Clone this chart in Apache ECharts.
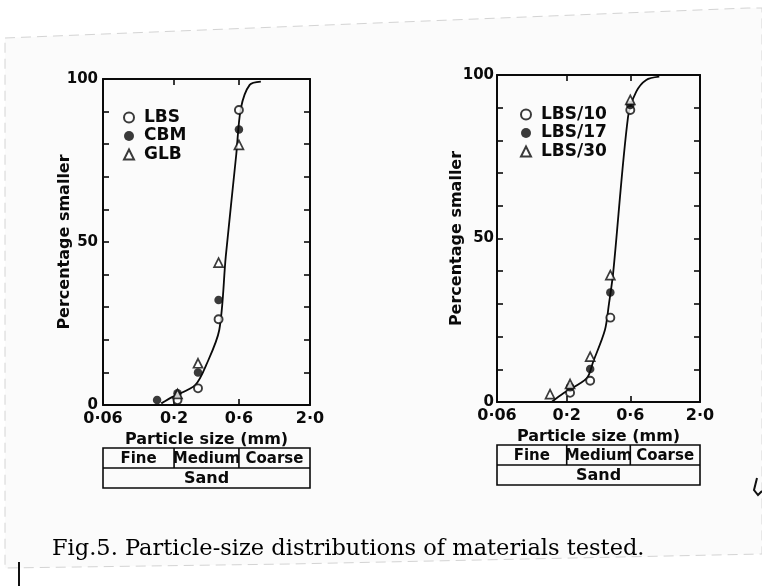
<!DOCTYPE html>
<html>
<head>
<meta charset="utf-8">
<script src="https://cdn.jsdelivr.net/npm/echarts@6/dist/echarts.min.js"></script>
<style>
  html, body { margin: 0; padding: 0; background: #ffffff; }
  #chart { width: 762px; height: 586px; }
</style>
</head>
<body>
<div id="chart"></div>
<script>
// BS sieve apertures (mm) used in the grading tests
const sieveSizes = [0.15, 0.212, 0.3, 0.425, 0.6];

// Left panel: percentage smaller at each sieve (null = not plotted)
const leftNames = ['LBS', 'CBM', 'GLB'];
const lbs = [null, 1.5, 5.1, 26.3, 90.5];
const cbm = [1.5, 3.6, 10.0, 32.2, 84.5];
const glb = [null, 3.4, 12.8, 43.7, 79.8];
// Hand-drawn grading curve, left panel
const leftCurveSize = [0.161, 0.195, 0.286, 0.345, 0.43, 0.48, 0.574, 0.62, 0.72, 0.87];
const leftCurvePct = [0.5, 2.5, 6.1, 12.3, 23, 45.5, 77, 91, 98.2, 99.2];

// Right panel
const rightNames = ['LBS/10', 'LBS/17', 'LBS/30'];
const lbs10 = [null, 2.8, 6.5, 25.8, 89.3];
const lbs17 = [null, 4.5, 10.1, 33.5, 90.8];
const lbs30 = [2.4, 5.5, 13.9, 38.8, 92.4];
const rightCurveSize = [0.155, 0.189, 0.282, 0.316, 0.387, 0.415, 0.446, 0.577, 0.665, 0.79, 0.99];
const rightCurvePct = [0.1, 2.7, 7.2, 12.3, 22, 30, 39.4, 87.2, 94.9, 98.5, 99.5];

// Axis ticks
const xTickValues = [0.06, 0.2, 0.6, 2.0];
const xTickLabels = ['0·06', '0·2', '0·6', '2·0'];
const xTopTicks = [0.2, 0.6];
const yTickLabels = [0, 50, 100];

// Sand classification bands (mm)
const sandClasses = ['Fine', 'Medium', 'Coarse'];
const sandBounds = [0.06, 0.2, 0.6, 2.0];

const lg = Math.log10;
const SANS = '"DejaVu Sans", sans-serif';
const INK = '#0a0a0a';

function points(pct) {
  const out = [];
  sieveSizes.forEach((s, i) => { if (pct[i] != null) out.push([lg(s), pct[i]]); });
  return out;
}
function curve(sizes, pct) {
  return sizes.map((s, i) => [lg(s), pct[i]]);
}

const markerStyles = [
  { symbol: 'circle', symbolSize: 8, itemStyle: { color: '#fff', borderColor: INK, borderWidth: 1.9 } },
  { symbol: 'circle', symbolSize: 8.5, itemStyle: { color: INK, borderColor: INK, borderWidth: 0 } },
  { symbol: 'triangle', symbolSize: 9, itemStyle: { color: '#fff', borderColor: INK, borderWidth: 1.7 } }
];

function xAxes(grid, nameGap) {
  const base = {
    gridIndex: grid, type: 'value', min: lg(0.06), max: lg(2.0),
    splitLine: { show: false },
    axisLine: { show: true, onZero: false, lineStyle: { color: INK, width: 2 } }
  };
  return [
    Object.assign({}, base, {
      position: 'bottom',
      axisTick: { show: true, inside: true, length: 6, lineStyle: { color: INK, width: 1.6 },
                  customValues: xTickValues.map(lg) },
      axisLabel: {
        show: true, customValues: xTickValues.map(lg), margin: 6,
        color: INK, fontSize: 16, fontWeight: 'bold', fontFamily: SANS,
        formatter: v => {
          const i = xTickValues.findIndex(t => Math.abs(lg(t) - v) < 1e-6);
          return i >= 0 ? xTickLabels[i] : '';
        }
      },
      name: 'Particle size (mm)', nameLocation: 'middle', nameGap: nameGap,
      nameTextStyle: { color: INK, fontSize: 16, fontWeight: 'bold', fontFamily: SANS }
    }),
    Object.assign({}, base, {
      position: 'top',
      axisTick: { show: true, inside: true, length: 6, lineStyle: { color: INK, width: 1.6 },
                  customValues: xTopTicks.map(lg) },
      axisLabel: { show: false }
    })
  ];
}

function yAxes(grid, margin, nameGap) {
  const base = {
    gridIndex: grid, type: 'value', min: 0, max: 100, interval: 10,
    splitLine: { show: false },
    axisLine: { show: true, onZero: false, lineStyle: { color: INK, width: 2 } },
    axisTick: { show: true, inside: true, length: 6, lineStyle: { color: INK, width: 1.6 } }
  };
  return [
    Object.assign({}, base, {
      position: 'left',
      axisLabel: {
        show: true, margin: margin, color: INK, fontSize: 15, fontWeight: 'bold', fontFamily: SANS,
        formatter: v => (yTickLabels.indexOf(v) >= 0 ? String(v) : '')
      },
      name: 'Percentage smaller', nameLocation: 'middle', nameGap: nameGap, nameRotate: 90,
      nameMoveOverlap: false,
      nameTextStyle: { color: INK, fontSize: 16, fontWeight: 'bold', fontFamily: SANS }
    }),
    Object.assign({}, base, { position: 'right', axisLabel: { show: false } })
  ];
}

function panelSeries(names, sets, curveData, axisOffset) {
  const list = sets.map((set, k) => Object.assign({
    name: names[k], type: 'scatter', xAxisIndex: axisOffset, yAxisIndex: axisOffset,
    data: points(set), z: 5, silent: true, symbolKeepAspect: true
  }, markerStyles[k]));
  list.unshift({
    type: 'line', xAxisIndex: axisOffset, yAxisIndex: axisOffset,
    data: curveData, smooth: 0.3, showSymbol: false, symbol: 'none',
    lineStyle: { color: INK, width: 1.8 }, z: 2, silent: true
  });
  return list;
}

function legend(names, left, top) {
  return {
    data: names, orient: 'vertical', left: left, top: top, padding: 0,
    itemWidth: 10, itemHeight: 10, itemGap: 1.5, selectedMode: false,
    textStyle: { color: INK, fontSize: 17, fontWeight: 'bold', fontFamily: SANS, lineHeight: 17,
                 padding: [0, 0, 0, 5] }
  };
}

const chart = echarts.init(document.getElementById('chart'), null, { renderer: 'canvas' });

chart.setOption({
  animation: false,
  backgroundColor: '#ffffff',
  grid: [
    { left: 103, top: 79, width: 207, height: 326 },
    { left: 497, top: 75, width: 203, height: 327 }
  ],
  xAxis: xAxes(0, 27).concat(xAxes(1, 24)),
  yAxis: yAxes(0, 5, 30).concat(yAxes(1, 3, 32)),
  legend: [legend(leftNames, 123, 109), legend(rightNames, 520, 106)],
  series: panelSeries(leftNames, [lbs, cbm, glb], curve(leftCurveSize, leftCurvePct), 0)
    .concat(panelSeries(rightNames, [lbs10, lbs17, lbs30], curve(rightCurveSize, rightCurvePct), 2))
});

// Sand classification table under each panel, aligned with the size axis
function sandTable(axisIdx, offset, rowH) {
  const xs = sandBounds.map(b => chart.convertToPixel({ xAxisIndex: axisIdx }, lg(b)));
  const y0 = chart.convertToPixel({ yAxisIndex: axisIdx }, 0) + offset;
  const line = { stroke: INK, lineWidth: 1.6 };
  const els = [
    { type: 'rect', shape: { x: xs[0], y: y0, width: xs[3] - xs[0], height: 2 * rowH },
      style: { fill: null, stroke: INK, lineWidth: 1.6 } },
    { type: 'line', shape: { x1: xs[0], y1: y0 + rowH, x2: xs[3], y2: y0 + rowH }, style: line }
  ];
  for (let i = 1; i < xs.length - 1; i++) {
    els.push({ type: 'line', shape: { x1: xs[i], y1: y0, x2: xs[i], y2: y0 + rowH }, style: line });
  }
  sandClasses.forEach((c, i) => {
    els.push({ type: 'text', x: (xs[i] + xs[i + 1]) / 2, y: y0 + rowH / 2 + 1,
      style: { text: c, fill: INK, font: 'bold 15px ' + SANS, textAlign: 'center', textVerticalAlign: 'middle' } });
  });
  els.push({ type: 'text', x: (xs[0] + xs[3]) / 2, y: y0 + 1.5 * rowH + 1,
    style: { text: 'Sand', fill: INK, font: 'bold 16px ' + SANS, textAlign: 'center', textVerticalAlign: 'middle' } });
  return els;
}

const pageEdge = {
  type: 'polygon', z: -10,
  shape: { points: [[5, 38], [748, 8], [762, 8], [762, 554], [290, 564], [5, 568]] },
  style: { fill: '#fbfbfb', stroke: '#d4d4d4', lineWidth: 1, lineDash: [10, 6] }
};

chart.setOption({
  graphic: [pageEdge]
    .concat(sandTable(0, 43, 20))
    .concat(sandTable(2, 43, 20))
    .concat([
      { type: 'text', x: 52, y: 549,
        style: { text: 'Fig.5. Particle-size distributions of materials tested.', fill: '#000',
                 font: '22.5px "DejaVu Serif", serif', textAlign: 'left', textVerticalAlign: 'middle' } },
      { type: 'line', shape: { x1: 19, y1: 562, x2: 19, y2: 586 }, style: { stroke: '#111', lineWidth: 2 } },
      { type: 'polyline', shape: { points: [[757, 478], [754, 490], [758, 495], [762, 491]] },
        style: { stroke: '#111', lineWidth: 2, fill: null } }
    ])
});
</script>
</body>
</html>
